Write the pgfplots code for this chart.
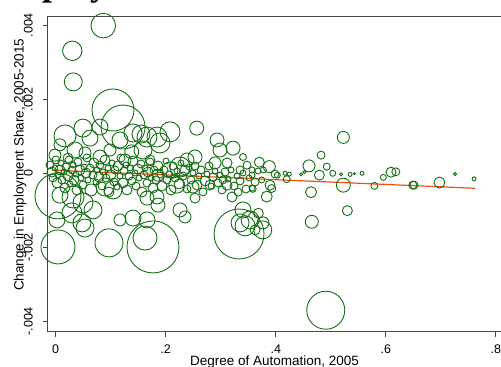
\documentclass[border=0pt]{standalone}
\usepackage{pgfplots}
\pgfplotsset{compat=1.18}
\usepackage{fontspec}
\setmainfont{Liberation Sans}
\newfontfamily\titlefont{Liberation Serif}
\definecolor{bgreen}{RGB}{20,110,20}
\definecolor{fitorange}{RGB}{240,80,20}
\definecolor{axgray}{RGB}{70,70,70}

\pgfplotstableread{
x y r
0.0865 3.99 12.3
0.0302 3.31 9.7
0.0320 2.47 9
0.1042 1.71 21
0.1224 1.25 22
0.1551 1.06 9
0.1660 0.98 10
0.4909 -3.70 19
0.0042 -1.99 17
0.0042 -0.61 23
0.0969 -1.88 14
0.1624 -1.75 12
0.1769 -1.99 26
0.3333 -1.64 25
0.0169 1.01 11
0.0351 0.63 8
0.0496 1.22 9
0.0805 1.25 8
0.1405 1.09 9
0.1587 0.63 9
0.1842 0.98 10
0.2078 1.12 10
0.2564 1.22 7
0.2933 0.90 7
0.2987 0.63 7
0.3224 0.68 7
0.3405 0.44 3.5
0.2896 0.28 6
0.3115 0.28 5
0.3478 0.22 4
0.3351 0.09 4
0.3569 0.09 3
0.1896 0.82 10
0.2387 0.36 7
0.2533 0.44 7
0.2260 0.17 10
0.2078 0.09 8
0.1860 -0.05 6
0.0624 0.95 8
0.1169 0.90 8
0.1382 0.58 7
-0.0013 0.49 6
0.0805 0.44 7
0.0533 0.55 6
0.0078 0.77 6
0.0224 0.41 5
0.0987 0.63 6
0.1260 0.36 6
0.1715 0.36 5
0.0078 -0.59 8
0.0315 -0.64 11
0.0496 -0.80 10
0.0896 -0.37 9
0.1042 -0.45 9
0.0296 -1.07 10
0.0678 -0.99 9
0.0024 -1.26 8
0.0478 -1.34 9
0.1169 -1.26 6
0.1405 -1.21 8
0.0533 -1.48 9
0.2200 -0.32 8
0.2496 -0.37 6
0.1842 -0.64 7
0.2533 -0.67 5
0.2805 -0.32 5
0.3115 -0.32 5
0.3042 -0.18 4
0.3569 -0.40 3
0.1860 -0.86 7
0.2260 -0.99 7
0.2351 -1.18 6
0.1660 -0.67 7
0.1660 -1.26 8
0.3405 -0.99 8
0.3533 -1.26 9
0.3351 -1.34 9
0.3442 -1.42 10
0.3764 -1.53 9
0.3624 -1.53 5
0.3684 -1.08 5
0.3769 -1.34 6
0.3205 -0.64 5
0.3315 -0.51 4
0.5229 0.97 6
0.4824 0.49 4
0.4605 0.20 6
0.4927 0.18 3.5
0.4793 -0.05 5
0.5036 0.00 3
0.4460 -0.03 1.5
0.4520 0.03 1.5
0.5187 -0.03 1.5
0.5351 -0.03 2
0.5429 -0.01 1
0.5569 0.00 2
0.5229 -0.32 7
0.4642 -0.51 5.5
0.5302 -1.01 5
0.4655 -1.31 6.5
0.5793 -0.34 3.5
0.5956 -0.11 3
0.6096 0.03 5
0.6182 0.04 4
0.6491 -0.32 4
0.6515 -0.32 4
0.6975 -0.25 5.5
0.7260 -0.02 1.5
0.7605 -0.15 2
0.3702 0.30 5
0.3884 0.18 6
0.3775 0.09 3
0.3745 -0.18 3
0.3896 -0.32 5
0.3927 -0.41 4
0.3836 -0.63 5.5
0.3987 -0.02 4
0.4029 -0.05 3
0.4169 0.00 2
0.4247 -0.02 2
0.4200 -0.16 3.5
0.3582 -0.42 3.5
-0.0104 0.224 4
-0.0067 0.035 5
-0.0049 -0.127 4
-0.0013 0.143 3
0.0005 0.359 4
0.0024 -0.262 5
0.0042 -0.046 3
0.0078 0.089 5
0.0096 0.278 3
0.0115 -0.181 4
0.0151 0.035 3
0.0169 -0.397 5
0.0187 0.170 4
0.0224 -0.073 5
0.0242 0.359 4
0.0260 -0.289 3
0.0296 0.089 4
0.0315 0.224 3
0.0333 -0.181 5
0.0369 -0.019 3
0.0387 -0.451 5
0.0405 0.305 4
0.0442 0.089 5
0.0460 -0.127 3
0.0496 -0.316 4
0.0515 0.170 3
0.0551 0.008 5
0.0569 0.414 4
0.0587 -0.181 3
0.0624 0.143 4
0.0642 -0.451 6
0.0678 -0.046 4
0.0696 0.278 5
0.0733 -0.235 3
0.0751 0.089 3
0.0787 -0.100 5
0.0805 0.224 4
0.0842 -0.343 4
0.0860 0.035 3
0.0896 0.359 5
0.0915 -0.127 4
0.0951 0.143 3
0.0969 -0.505 5
0.1005 -0.046 5
0.1024 0.278 3
0.1060 -0.235 4
0.1078 0.089 4
0.1115 -0.370 3
0.1133 0.197 5
0.1169 -0.073 3
0.1187 0.414 4
0.1224 -0.262 5
0.1242 0.062 4
0.1278 0.224 3
0.1296 -0.451 5
0.1333 -0.073 4
0.1351 0.143 3
0.1387 -0.208 4
0.1405 0.332 5
0.1442 0.008 3
0.1460 -0.343 4
0.1496 0.116 5
0.1515 -0.127 3
0.1551 0.251 4
0.1569 -0.505 5
0.1605 -0.046 4
0.1624 0.143 3
0.1660 -0.262 4
0.1678 0.035 5
0.1715 0.305 4
0.1733 -0.127 3
0.1769 -0.397 5
0.1787 0.089 4
0.1824 -0.181 4
0.1860 0.197 5
0.1896 -0.046 3
0.1933 -0.343 5
0.1969 0.089 4
0.2005 0.332 3
0.2024 -0.181 4
0.2060 -0.019 3
0.2096 -0.451 5
0.2133 0.197 4
0.2169 -0.127 4
0.2205 0.062 3
0.2242 -0.289 5
0.2278 0.278 3
0.2315 -0.073 4
0.2351 0.089 5
0.2387 -0.424 4
0.2424 0.170 3
0.2460 -0.181 4
0.2496 0.008 3
0.2533 0.197 4
0.2569 -0.316 5
0.2605 -0.073 3
0.2642 0.089 4
0.2678 -0.505 4
0.2715 -0.208 5
0.2751 -0.019 3
0.2787 0.197 4
0.2824 -0.343 3
0.2860 -0.100 4
0.2896 0.062 3
0.2951 -0.262 4
0.2987 -0.046 3
0.3024 -0.451 4
0.3078 0.035 4
0.3133 -0.154 3
0.3187 0.089 3
0.3242 -0.343 4
0.3296 -0.073 3
0.3351 -0.208 4
0.3405 0.008 3
0.3460 -0.424 4
0.3515 -0.127 3
0.3569 -0.046 3
0.3624 -0.235 4
0.3678 0.062 3
}\bubbles

\begin{document}
\begin{tikzpicture}
\useasboundingbox (0,0) rectangle (501pt,367pt);
\clip (0,0) rectangle (501pt,367pt);
\node[anchor=base west, inner sep=0pt, font=\titlefont\bfseries\fontsize{36}{40}\selectfont] at (-12pt,371.5pt) {Employment};
\begin{axis}[
  at={(47.7pt,35.3pt)}, anchor=south west,
  scale only axis, width=453.6pt, height=315.7pt,
  xmin=-0.0145, xmax=0.81, ymin=-4.28, ymax=4.25,
  axis x line*=bottom, axis y line*=left,
  axis line style={-, axgray, line width=0.9pt},
  xtick={0,0.2,0.4,0.6,0.8}, xticklabels={0,.2,.4,.6,.8},
  ytick={-4,-2,0,2,4}, yticklabels={-.004,-.002,0,.002,.004},
  tick align=outside, major tick length=5pt,
  tick style={axgray, line width=0.9pt},
  every tick label/.append style={font=\fontsize{12.5}{14}\selectfont},
  xticklabel style={anchor=north, inner sep=0pt, yshift=-7.5pt},
  yticklabel style={xshift=-9.7pt, rotate=90, anchor=south, inner sep=0pt},
  xlabel={Degree of Automation, 2005},
  ylabel={Change in Employment Share, 2005-2015},
  every axis x label/.style={at={(axis description cs:0.5,0)}, yshift=-33.3pt, anchor=base, font=\fontsize{13.5}{15}\selectfont},
  every axis y label/.style={at={(axis description cs:0,0.5)}, xshift=-24pt, yshift=9pt, rotate=90, anchor=base, font=\fontsize{13.5}{15}\selectfont},
  clip=false,
]
\addplot[scatter, only marks, mark=o, line width=0.9pt,
  scatter/use mapped color={draw=bgreen, fill=none},
  visualization depends on={\thisrow{r} \as \rr},
  scatter/@pre marker code/.append style={/tikz/mark size=\rr}]
  table[x=x, y=y, meta=r] {\bubbles};
\addplot[fitorange, line width=1.2pt] coordinates {(-0.007,0.089) (0.762,-0.405)};
\draw[axgray, line width=0.9pt] (rel axis cs:0,1) -- (rel axis cs:1,1);
\end{axis}
\end{tikzpicture}
\end{document}
